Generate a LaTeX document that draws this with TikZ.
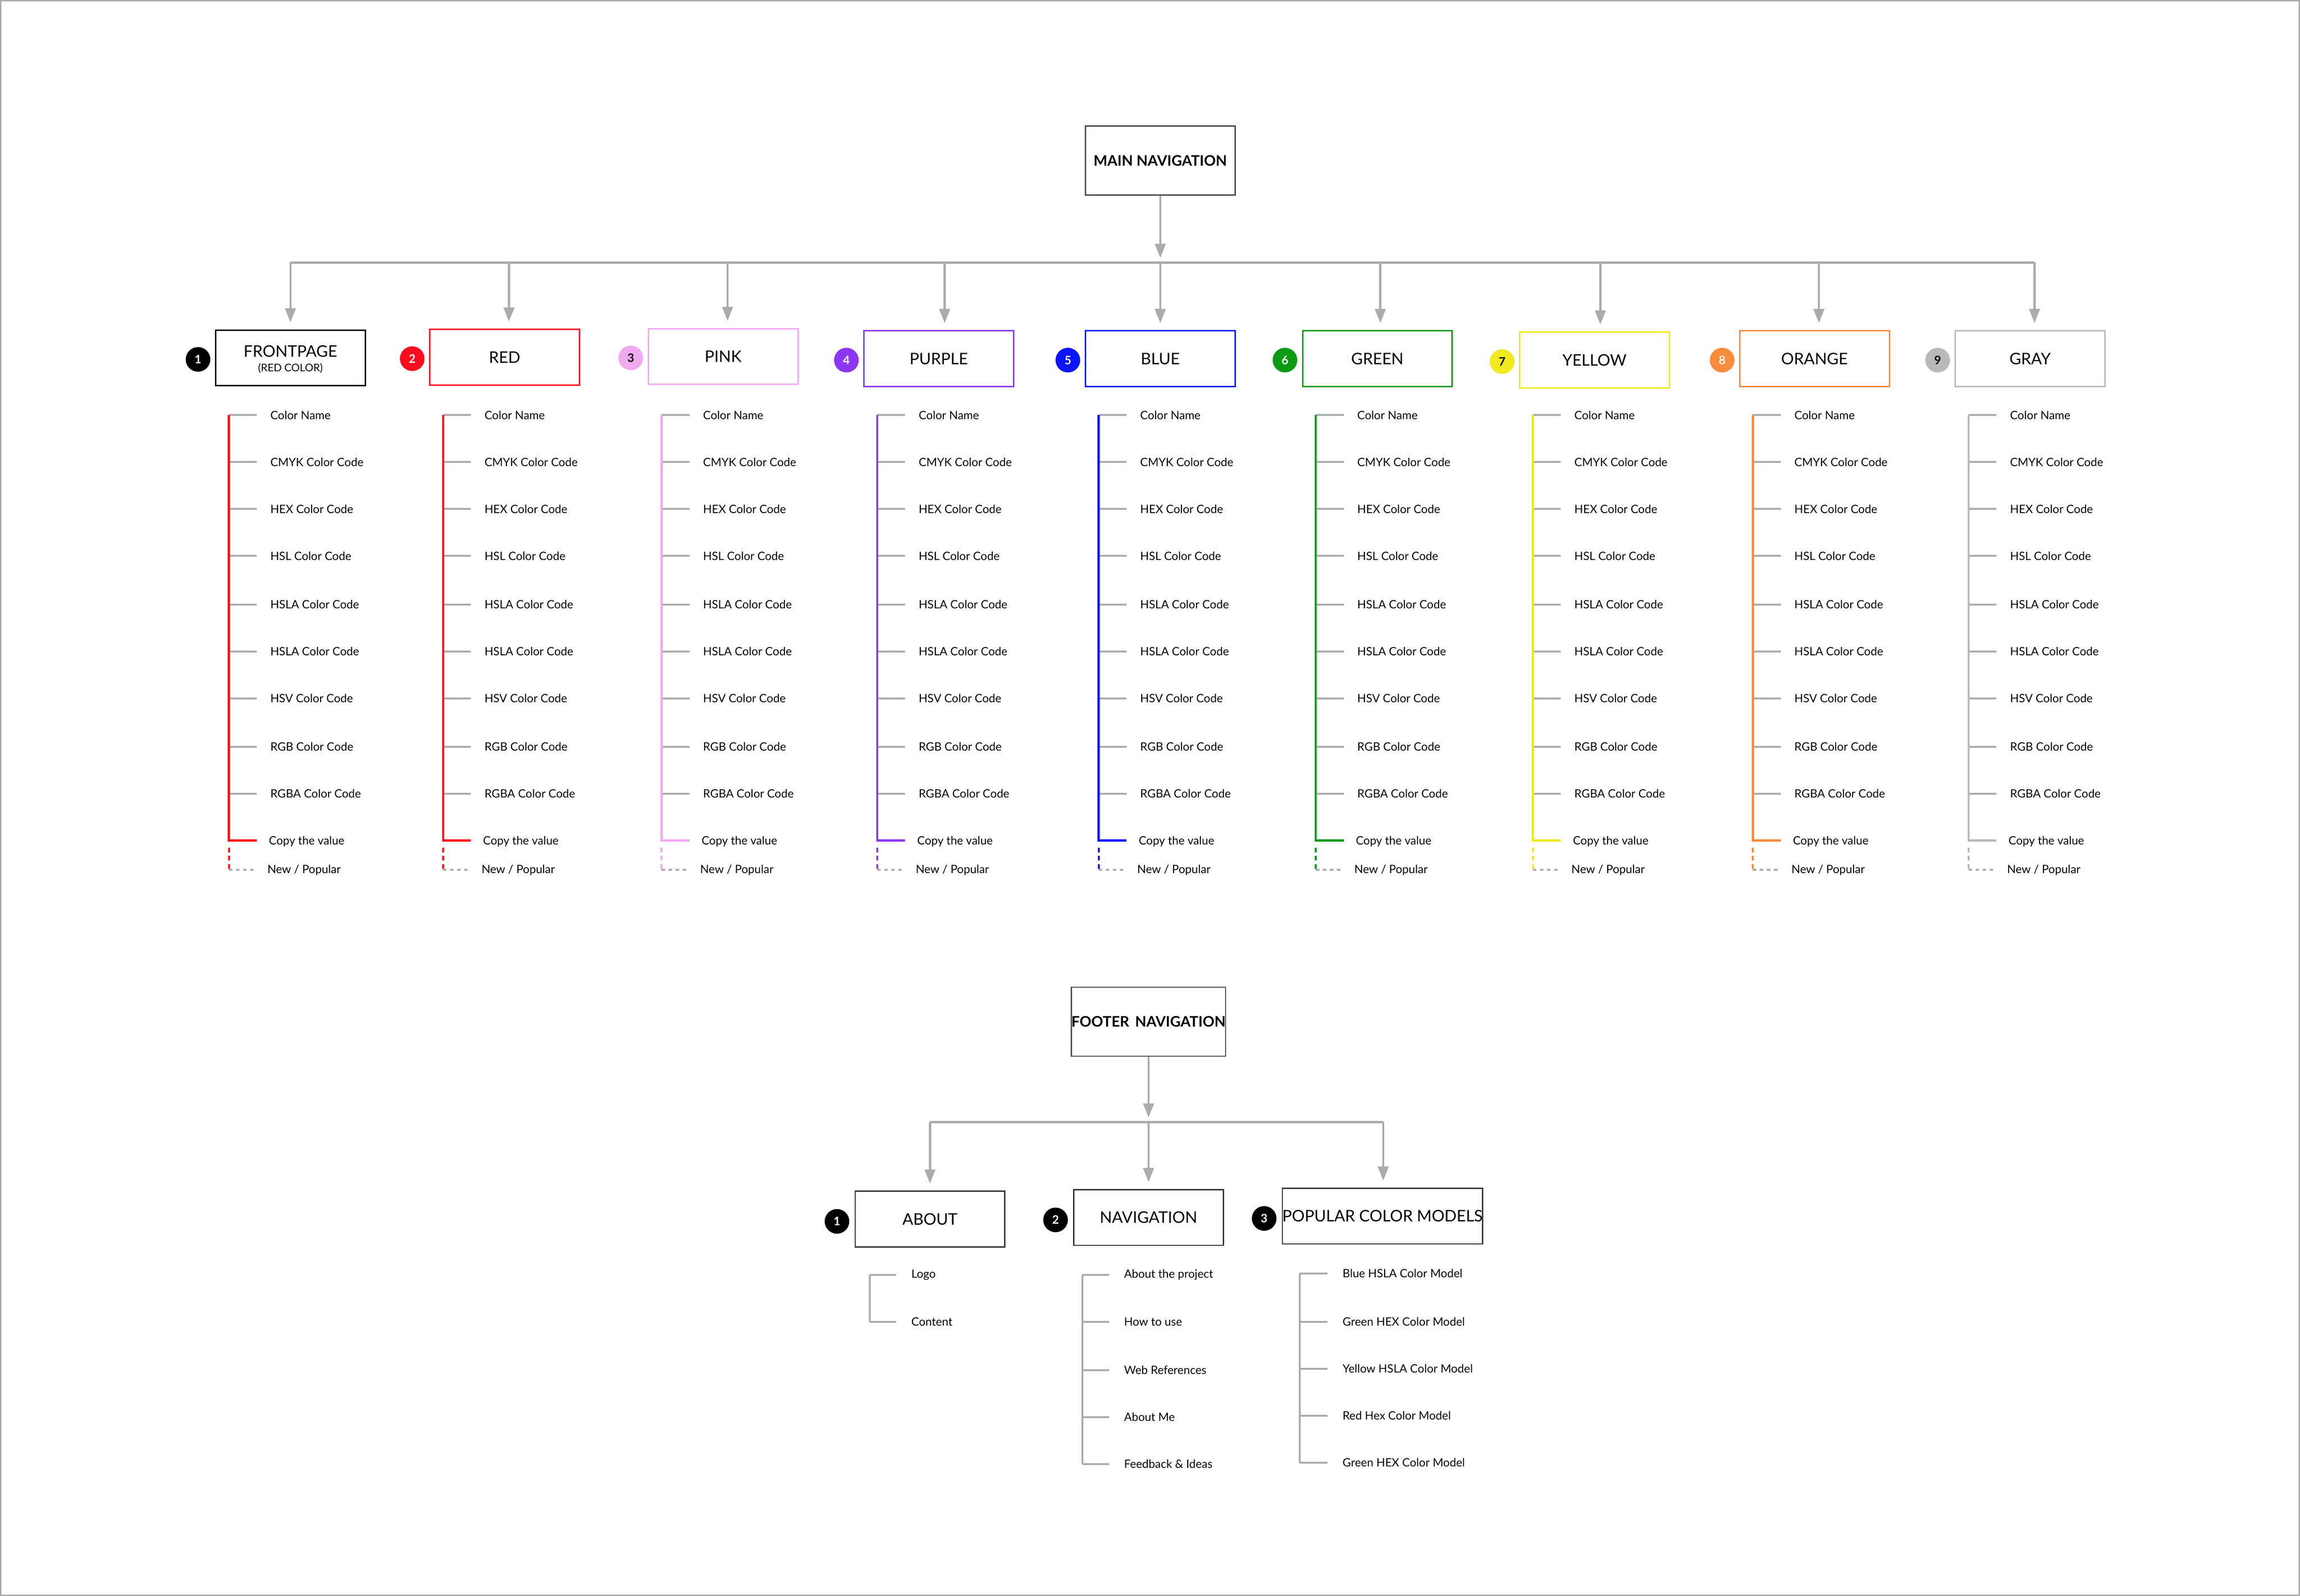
\documentclass[tikz,border=0pt]{standalone}
\usepackage{fontspec}
\setmainfont{Lato}
\usetikzlibrary{arrows.meta}
\definecolor{gl}{HTML}{ABABAB}
\definecolor{cred}{HTML}{FF0A1E}
\definecolor{cpink}{HTML}{F0AAF0}
\definecolor{cpurp}{HTML}{8B35F5}
\definecolor{cblue}{HTML}{0A14FF}
\definecolor{cgreen}{HTML}{0A9A14}
\definecolor{cyell}{HTML}{F0EA1E}
\definecolor{corng}{HTML}{FA8C3C}
\definecolor{cgray}{HTML}{B9B9B9}
\tikzset{
  conn/.style={draw=gl,line width=0.9pt},
  arr/.style={conn,-{Triangle[width=4.5pt,length=6pt]}},
  tick/.style={draw=gl,line width=0.8pt},
  item/.style={anchor=west,font=\fontsize{4.9}{6}\selectfont,inner sep=0pt},
  blabel/.style={font=\fontsize{6.8}{8}\selectfont},
  num/.style={circle,minimum size=10.5pt,inner sep=0pt,font=\bfseries\fontsize{5}{6}\selectfont}
}
\begin{document}
\begin{tikzpicture}[x=0.625pt,y=-0.625pt]
\useasboundingbox (0,0) rectangle (1568,1088);
\draw[gl,line width=0.5pt] (0.5,0.5) rectangle (1567.5,1087.5);
% main
\node[draw=black!70,line width=0.5pt,minimum width=63.75pt,minimum height=29.4pt,inner sep=0pt,font=\bfseries\fontsize{6.2}{7}\selectfont] (main) at (791,109.5) {MAIN NAVIGATION};
\coordinate (bus) at (791,179);
\draw[arr] (main.south) -- ([yshift=2]bus);
\draw[conn] (198,179) -- (1387,179);
\foreach \cx/\lx/\col/\bcol/\ncol/\lab/\tc/\by [count=\i] in {
 198/156/cred/black/black/FRONTPAGE/white/244,
 347/302/cred/cred/cred/RED/white/243.5,
 496/451/cpink/cpink/cpink/PINK/black/243,
 644/598/cpurp/cpurp/cpurp/PURPLE/white/244.5,
 791/749/cblue/cblue/cblue/BLUE/white/244.5,
 941/897/cgreen/cgreen/cgreen/GREEN/white/244.5,
 1091/1045/cyell/cyell/cyell/YELLOW/black/245.5,
 1240/1195/corng/corng/corng/ORANGE/white/244.5,
 1387/1342/cgray/cgray/cgray/GRAY/black/244.5}{
  \coordinate (t\i) at (\cx,179);
  \pgfmathsetmacro{\bx}{\lx+42}
  \node[draw=\bcol,line width=0.6pt,minimum width=63.75pt,minimum height=23.75pt,blabel] (b\i) at (\bx,\by) {};
  \draw[arr] (t\i) -- ([yshift=3]b\i.north -| t\i);
  \pgfmathsetmacro{\cxx}{\lx-21}
  \node[num,fill=\ncol,text=\tc] (n\i) at (\cxx,\by+1) {\i};
  \foreach \y/\t [count=\j] in {283/Color Name,315/CMYK Color Code,347/HEX Color Code,379/HSL Color Code,412/HSLA Color Code,444/HSLA Color Code,476/HSV Color Code,509/RGB Color Code,541/RGBA Color Code}{
    \coordinate (k\i\j) at (\lx,\y);
    \draw[tick] (k\i\j) -- ++(19,0);
    \node[item] (it\i\j) at (\lx+28,\y) {\t};
  }
  \coordinate (cp\i) at (\lx,573);
  \draw[\col,line width=0.9pt] (k\i1) -- (cp\i) -- ++(19,0);
  \node[item] (cv\i) at (\lx+27,573.5) {Copy the value};
  \coordinate (np\i) at (\lx,593);
  \draw[\col,line width=0.8pt,dash pattern=on 2pt off 1.5pt] ([yshift=-3]cp\i) -- (np\i);
  \draw[gl,line width=0.7pt,dash pattern=on 1.5pt off 1.5pt] (np\i) -- ++(18,0);
  \node[item] (nw\i) at (\lx+26,593) {New / Popular};
}
\node[font=\fontsize{6.8}{8}\selectfont] at (198,239.5) {FRONTPAGE};
\node[font=\fontsize{4.5}{5}\selectfont] at (198,251) {(RED COLOR)};
\foreach \i/\l in {2/RED,3/PINK,4/PURPLE,5/BLUE,6/GREEN,7/YELLOW,8/ORANGE,9/GRAY}{
  \node[blabel] at (b\i) {\l};
}
% footer
\node[draw=black!70,line width=0.5pt,minimum width=63.75pt,minimum height=29.4pt,inner sep=0pt,font=\bfseries\fontsize{6.2}{7}\selectfont] (foot) at (783,696.5) {FOOTER\, NAVIGATION};
\coordinate (fbus) at (783,765);
\draw[arr] (foot.south) -- ([yshift=2]fbus);
\draw[conn] (634,765) -- (943,765);
\foreach \cx/\bx/\by/\w/\n/\lab [count=\i] in {634/634/831/63.75pt/1/ABOUT, 783/783/830/63.75pt/2/NAVIGATION, 943/942.5/829/78pt/3/POPULAR COLOR MODELS}{
  \coordinate (ft\i) at (\cx,765);
  \node[draw=black!80,line width=0.5pt,minimum width=\w,minimum height=23.75pt,inner sep=0pt,blabel] (fb\i) at (\bx,\by) {\lab};
  \draw[arr] (ft\i) -- ([yshift=3]fb\i.north -| ft\i);
  \node[num,fill=black,text=white] (fn\i) at ([xshift=-7.5pt,yshift=-1pt]fb\i.west) {\n};
}
\foreach \y/\t [count=\j] in {869/Logo,901/Content}{
  \coordinate (fa\j) at (593,\y);
  \draw[tick] (fa\j) -- ++(18,0);
  \node[item] at (621,\y) {\t};
}
\draw[tick] (fa1) -- (fa2);
\foreach \y/\t [count=\j] in {869/About the project,901/How to use,934/Web References,966/About Me,998/Feedback \& Ideas}{
  \coordinate (fv\j) at (738,\y);
  \draw[tick] (fv\j) -- ++(18,0);
  \node[item] at (766,\y) {\t};
}
\draw[tick] (fv1) -- (fv5);
\foreach \y/\t [count=\j] in {868/Blue HSLA Color Model,901/Green HEX Color Model,933/Yellow HSLA Color Model,965/Red Hex Color Model,997/Green HEX Color Model}{
  \coordinate (fp\j) at (886,\y);
  \draw[tick] (fp\j) -- ++(19,0);
  \node[item] at (915,\y) {\t};
}
\draw[tick] (fp1) -- (fp5);
\end{tikzpicture}
\end{document}
